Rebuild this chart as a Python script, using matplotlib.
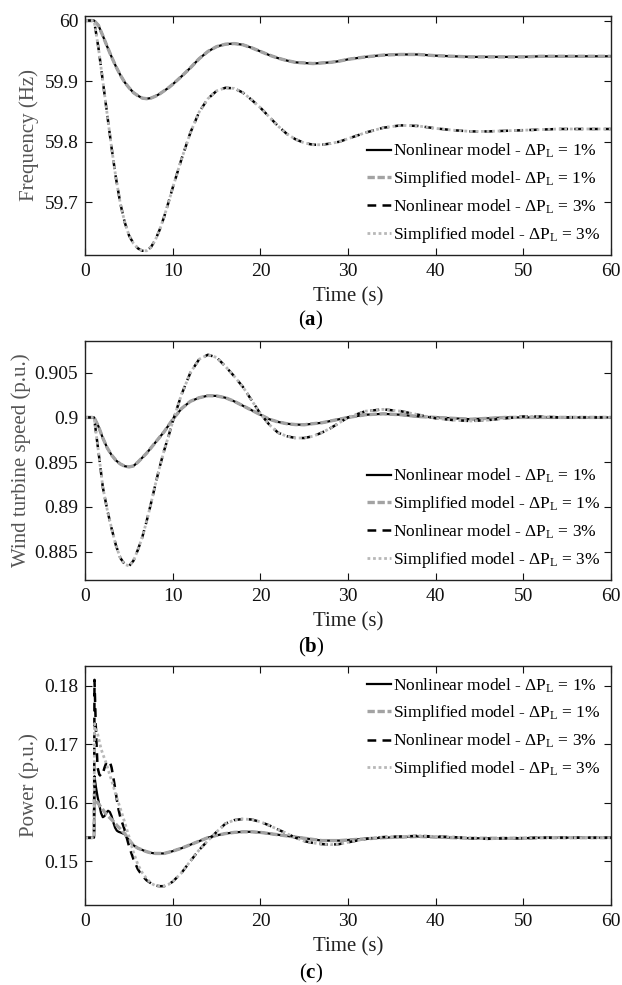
import matplotlib
matplotlib.use("Agg")
import matplotlib.pyplot as plt

plt.rcParams['font.family'] = ['Liberation Serif', 'DejaVu Serif']
plt.rcParams['mathtext.fontset'] = 'custom'
plt.rcParams['mathtext.rm'] = 'Liberation Serif'
plt.rcParams['mathtext.it'] = 'Liberation Serif:italic'
plt.rcParams['mathtext.bf'] = 'Liberation Serif:bold'

# time axis for panels (a) and (b)
t_ab = [0, 1, 1.5, 2, 2.5, 3, 3.5, 4, 4.5, 5, 5.5, 6, 6.5, 7, 7.5, 8, 8.5, 9, 9.5, 10,
        11, 12, 13, 14, 15, 16, 17, 18, 19, 20, 21, 22, 23, 24, 25, 26, 27, 28, 29, 30,
        32, 34, 36, 38, 40, 42, 44, 46, 48, 50, 52, 54, 56, 58, 60]

# (a) frequency, Hz
freq_nl_1 = [60.0, 60.0, 59.992, 59.975, 59.957, 59.940, 59.924, 59.910, 59.898, 59.889,
             59.881, 59.876, 59.872, 59.871, 59.872, 59.875, 59.879, 59.884, 59.889, 59.895,
             59.908, 59.922, 59.937, 59.949, 59.957, 59.961, 59.962, 59.960, 59.955, 59.949,
             59.943, 59.938, 59.934, 59.931, 59.930, 59.929, 59.930, 59.931, 59.933, 59.936,
             59.940, 59.943, 59.944, 59.944, 59.942, 59.941, 59.940, 59.940, 59.940, 59.940,
             59.941, 59.941, 59.941, 59.941, 59.941]
freq_sm_1 = list(freq_nl_1)  # curves lie on top of each other
freq_nl_3 = [60.0, 60.0, 59.955, 59.900, 59.845, 59.790, 59.740, 59.698, 59.667, 59.645,
             59.632, 59.624, 59.620, 59.620, 59.626, 59.638, 59.655, 59.676, 59.700, 59.725,
             59.772, 59.815, 59.849, 59.871, 59.884, 59.889, 59.888, 59.881, 59.869, 59.856,
             59.841, 59.826, 59.813, 59.804, 59.798, 59.795, 59.795, 59.797, 59.800, 59.805,
             59.815, 59.823, 59.827, 59.826, 59.822, 59.819, 59.817, 59.817, 59.818, 59.819,
             59.820, 59.821, 59.821, 59.821, 59.821]
freq_sm_3 = list(freq_nl_3)

# (b) wind turbine speed, p.u.
speed_nl_1 = [0.9, 0.9, 0.8990, 0.8977, 0.8966, 0.8958, 0.8952, 0.8948, 0.89455, 0.89447,
              0.89458, 0.8950, 0.8955, 0.8960, 0.8966, 0.8972, 0.8978, 0.8984, 0.8991, 0.8998,
              0.9010, 0.9018, 0.9022, 0.90243, 0.9024, 0.9022, 0.9018, 0.9013, 0.9008, 0.9003,
              0.8998, 0.8995, 0.8993, 0.8992, 0.89918, 0.8993, 0.8994, 0.8996, 0.8998, 0.9000,
              0.9003, 0.9004, 0.9003, 0.9001, 0.9000, 0.8999, 0.8998, 0.8999, 0.9000, 0.9000,
              0.9000, 0.9000, 0.9000, 0.9000, 0.9000]
speed_sm_1 = list(speed_nl_1)
speed_nl_3 = [0.9, 0.9, 0.8962, 0.8922, 0.8897, 0.8876, 0.8857, 0.8843, 0.8836, 0.8834,
              0.8840, 0.8852, 0.8866, 0.8884, 0.8904, 0.8925, 0.8945, 0.8963, 0.8979, 0.8996,
              0.9026, 0.9050, 0.9065, 0.9070, 0.9067, 0.9057, 0.9046, 0.9034, 0.9019, 0.9004,
              0.8992, 0.8983, 0.8979, 0.8977, 0.8977, 0.8979, 0.8983, 0.8988, 0.8994, 0.9000,
              0.9007, 0.9009, 0.9007, 0.9003, 0.8999, 0.8997, 0.8996, 0.8997, 0.8999, 0.9001,
              0.9001, 0.9000, 0.9000, 0.9000, 0.9000]
speed_sm_3 = list(speed_nl_3)

# (c) power, p.u. (finer time steps around the load step)
t_c = [0, 1, 1.05, 1.2, 1.4, 1.6, 1.8, 2, 2.2, 2.4, 2.6, 2.8, 3, 3.2, 3.4, 3.6, 3.8, 4,
       4.5, 5, 5.5, 6, 6.5, 7, 7.5, 8, 8.5, 9, 9.5, 10,
       11, 12, 13, 14, 15, 16, 17, 18, 19, 20, 21, 22, 23, 24, 25, 26, 27, 28, 29, 30,
       32, 34, 36, 38, 40, 42, 44, 46, 48, 50, 52, 54, 56, 58, 60]
power_nl_1 = [0.1540, 0.1540, 0.1645, 0.1628, 0.1610, 0.1596, 0.1582, 0.1575, 0.1577, 0.1583,
              0.1586, 0.1584, 0.1577, 0.1566, 0.1557, 0.1552, 0.1550, 0.1549,
              0.1546, 0.1535, 0.1527, 0.1522, 0.1519, 0.1516, 0.1514, 0.1513, 0.1513, 0.1513,
              0.1515, 0.1517,
              0.1522, 0.1528, 0.1534, 0.1540, 0.1544, 0.1547, 0.1549, 0.1550, 0.1550, 0.1549,
              0.1547, 0.1545, 0.1543, 0.1541, 0.1539, 0.1537, 0.1535, 0.1535, 0.1535, 0.1536,
              0.1538, 0.1540, 0.1541, 0.1542, 0.1541, 0.1540, 0.1539, 0.1539, 0.1539, 0.1539,
              0.1540, 0.1540, 0.1540, 0.1540, 0.1540]
power_sm_1 = [0.1540, 0.1540, 0.1606, 0.1604, 0.1600, 0.1596, 0.1592, 0.1588, 0.1584, 0.1580,
              0.1577, 0.1574, 0.1571, 0.1568, 0.1565, 0.1561, 0.1558, 0.1555,
              0.1547, 0.1536, 0.1527, 0.1522, 0.1519, 0.1516, 0.1514, 0.1513, 0.1513, 0.1513,
              0.1515, 0.1517,
              0.1522, 0.1528, 0.1534, 0.1540, 0.1544, 0.1547, 0.1549, 0.1550, 0.1550, 0.1549,
              0.1547, 0.1545, 0.1543, 0.1541, 0.1539, 0.1537, 0.1535, 0.1535, 0.1535, 0.1536,
              0.1538, 0.1540, 0.1541, 0.1542, 0.1541, 0.1540, 0.1539, 0.1539, 0.1539, 0.1539,
              0.1540, 0.1540, 0.1540, 0.1540, 0.1540]
power_nl_3 = [0.1540, 0.1540, 0.1810, 0.1730, 0.1660, 0.1648, 0.1645, 0.1650, 0.1660, 0.1668,
              0.1671, 0.1670, 0.1660, 0.1643, 0.1625, 0.1605, 0.1588, 0.1575,
              0.1553, 0.1525, 0.1503, 0.1486, 0.1475, 0.1467, 0.1462, 0.1458, 0.1457, 0.1457,
              0.1460, 0.1465,
              0.1480, 0.1500, 0.1519, 0.1535, 0.1550, 0.1564, 0.1570, 0.1572, 0.1571, 0.1567,
              0.1561, 0.1554, 0.1547, 0.1540, 0.1534, 0.1531, 0.1529, 0.1528, 0.1529, 0.1532,
              0.1538, 0.1541, 0.1542, 0.1543, 0.1542, 0.1541, 0.1539, 0.1538, 0.1539, 0.1539,
              0.1540, 0.1540, 0.1540, 0.1540, 0.1540]
power_sm_3 = [0.1540, 0.1540, 0.1735, 0.1728, 0.1718, 0.1705, 0.1692, 0.1683, 0.1675, 0.1667,
              0.1657, 0.1647, 0.1638, 0.1628, 0.1618, 0.1608, 0.1599, 0.1590,
              0.1566, 0.1541, 0.1515, 0.1494, 0.1480, 0.1470, 0.1462, 0.1458, 0.1457, 0.1457,
              0.1460, 0.1465,
              0.1480, 0.1500, 0.1519, 0.1535, 0.1550, 0.1564, 0.1570, 0.1572, 0.1571, 0.1567,
              0.1561, 0.1554, 0.1547, 0.1540, 0.1534, 0.1531, 0.1529, 0.1528, 0.1529, 0.1532,
              0.1538, 0.1541, 0.1542, 0.1543, 0.1542, 0.1541, 0.1539, 0.1538, 0.1539, 0.1539,
              0.1540, 0.1540, 0.1540, 0.1540, 0.1540]

sub = r'$\mathrm{P}_\mathrm{L}$'
labels_a = ['Nonlinear model - \u0394' + sub + ' = 1%',
            'Simplified model- \u0394' + sub + ' = 1%',
            'Nonlinear model - \u0394' + sub + ' = 3%',
            'Simplified model - \u0394' + sub + ' = 3%']
labels_bc = ['Nonlinear model - \u0394' + sub + ' = 1%',
             'Simplified model - \u0394' + sub + ' = 1%',
             'Nonlinear model - \u0394' + sub + ' = 3%',
             'Simplified model - \u0394' + sub + ' = 3%']

fig = plt.figure(figsize=(6.22, 9.85), dpi=100)
W, H = 622, 985


def make_axes(top, bottom):
    return fig.add_axes([85.3 / W, 1 - bottom / H, 525.5 / W, (bottom - top) / H])


def draw(ax, t, nl1, sm1, nl3, sm3, labels):
    ax.plot(t, nl1, color='black', lw=1.6, ls='-', label=labels[0])
    ax.plot(t, sm1, color='#a3a3a3', lw=2.4, ls=(0, (2.2, 0.8)), label=labels[1])
    ax.plot(t, nl3, color='black', lw=1.8, ls=(0, (3.5, 2.5)), label=labels[2])
    ax.plot(t, sm3, color='#b8b8b8', lw=2.0, ls=(0, (1, 1)), label=labels[3])
    ax.set_xlim(0, 60)
    ax.set_xticks([0, 10, 20, 30, 40, 50, 60])
    ax.tick_params(direction='in', top=True, right=True, length=5, width=0.8,
                   labelsize=14, colors='#111111')
    ax.tick_params(axis='x', pad=6)
    ax.tick_params(axis='y', pad=5)
    for s in ax.spines.values():
        s.set_linewidth(1.0)
        s.set_color('#222222')
    ax.set_xlabel('Time (s)', fontsize=15, labelpad=5, color='#222222')


leg_kw = dict(frameon=False, fontsize=12.5, handlelength=1.4, handletextpad=0.1,
              labelspacing=0.5, borderaxespad=0.2)

# (a)
ax1 = make_axes(15.7, 255)
draw(ax1, t_ab, freq_nl_1, freq_sm_1, freq_nl_3, freq_sm_3, labels_a)
ax1.set_ylim(59.613, 60.008)
ax1.set_yticks([59.7, 59.8, 59.9, 60])
ax1.set_yticklabels(['59.7', '59.8', '59.9', '60'])
ax1.set_ylabel('Frequency (Hz)', fontsize=15, color='#555555')
ax1.legend(loc='lower right', **leg_kw)

# (b)
ax2 = make_axes(340.7, 580)
draw(ax2, t_ab, speed_nl_1, speed_sm_1, speed_nl_3, speed_sm_3, labels_bc)
ax2.set_ylim(0.88184, 0.90857)
ax2.set_yticks([0.885, 0.89, 0.895, 0.9, 0.905])
ax2.set_yticklabels(['0.885', '0.89', '0.895', '0.9', '0.905'])
ax2.set_ylabel('Wind turbine speed (p.u.)', fontsize=15, color='#555555', labelpad=3)
ax2.legend(loc='lower right', **leg_kw)

# (c)
ax3 = make_axes(665.7, 905)
draw(ax3, t_c, power_nl_1, power_sm_1, power_nl_3, power_sm_3, labels_bc)
ax3.set_ylim(0.14248, 0.18342)
ax3.set_yticks([0.15, 0.16, 0.17, 0.18])
ax3.set_yticklabels(['0.15', '0.16', '0.17', '0.18'])
ax3.set_ylabel('Power (p.u.)', fontsize=15, color='#555555')
ax3.legend(loc='upper right', **leg_kw)

# panel captions
for y, letter in [(320, 'a'), (647, 'b'), (973, 'c')]:
    fig.text(0.5, 1 - y / H, '($\\mathbf{' + letter + '}$)', ha='center', va='center',
             fontsize=15)

fig.savefig('out.png', dpi=100)
